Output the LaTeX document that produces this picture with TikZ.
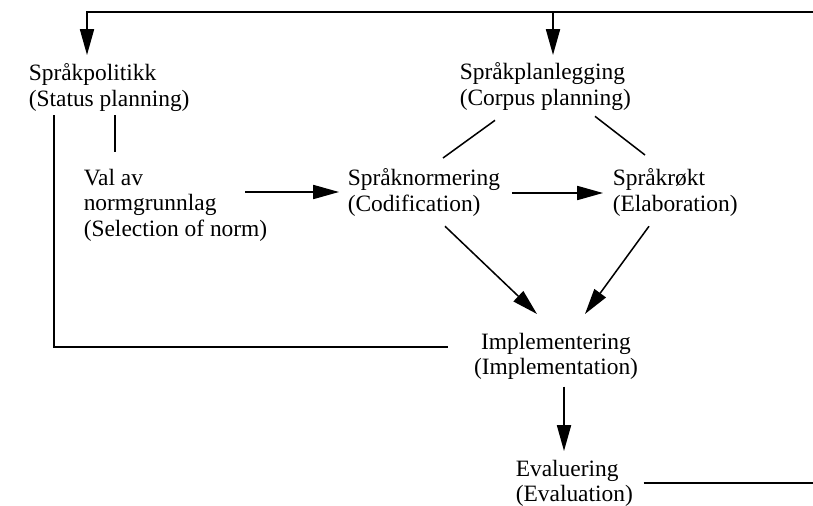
\documentclass[tikz,border=0pt]{standalone}
\usepackage{fontspec}
\setmainfont{Liberation Serif}
\usetikzlibrary{arrows.meta,calc}
\tikzset{
    lbl/.style={align=left, inner sep=0pt, anchor=north west, font=\fontsize{20}{22}\selectfont},
    arr/.style={-{Triangle[length=22pt,width=12pt]}},
}
\begin{document}
\begin{tikzpicture}[x=0.03cm, y=-0.03cm, line width=1.3pt]
            \useasboundingbox (0,0) rectangle (813,506);
            \node (pol) at (28,63) [lbl] {Språkpolitikk\\(Status planning)};
            \node (plan) at (459,62) [lbl] {Språkplanlegging\\(Corpus planning)};
            \node (val) at (83,168) [lbl] {Val av\\normgrunnlag\\(Selection of norm)};
            \node (norm) at (347,168) [lbl] {Språknormering\\(Codification)};
            \node (rokt) at (612,168) [lbl] {Språkrøkt\\(Elaboration)};
            \node (impl) at (556,332) [lbl, anchor=north, align=center] {Implementering\\(Implementation)};
            \node (eval) at (515,459) [lbl] {Evaluering\\(Evaluation)};
            \coordinate (topR) at (813,12);
            \coordinate (botR) at (813,483);
            \coordinate (planin) at ($(plan.north west)+(94,-7)$);
            \draw[arr] (topR) -| ($(pol.north west)+(59,-8)$);
            \draw[arr] (planin |- topR) -- (planin);
            \draw[] ($(pol.south west)+(87,3)$) -- ($(val.north west)+(32,-16)$);
            \draw[] ($(pol.south west)+(26,3)$) |- ($(impl.north west)+(-25,15)$);
            \draw[arr] ($(val.north east)+(-23,24)$) -- ($(norm.north west)+(-8,24)$);
            \draw[arr] ($(norm.north east)+(11,25)$) -- ($(rokt.north west)+(-9,25)$);
            \draw[] ($(plan.south west)+(36,9)$) -- ($(norm.north west)+(96,-10)$);
            \draw[] ($(plan.south west)+(136,5)$) -- ($(rokt.north west)+(33,-13)$);
            \draw[arr] ($(norm.south west)+(98,9)$) -- ($(impl.north)+(-19,-18)$);
            \draw[arr] ($(rokt.south west)+(37,9)$) -- ($(impl.north)+(29,-18)$);
            \draw[arr] ($(impl.south)+(8,6)$) -- ($(eval.north west)+(49,-8)$);
            \draw[] ($(eval.north east)+(10,24)$) -- (botR);
\end{tikzpicture}
\end{document}
